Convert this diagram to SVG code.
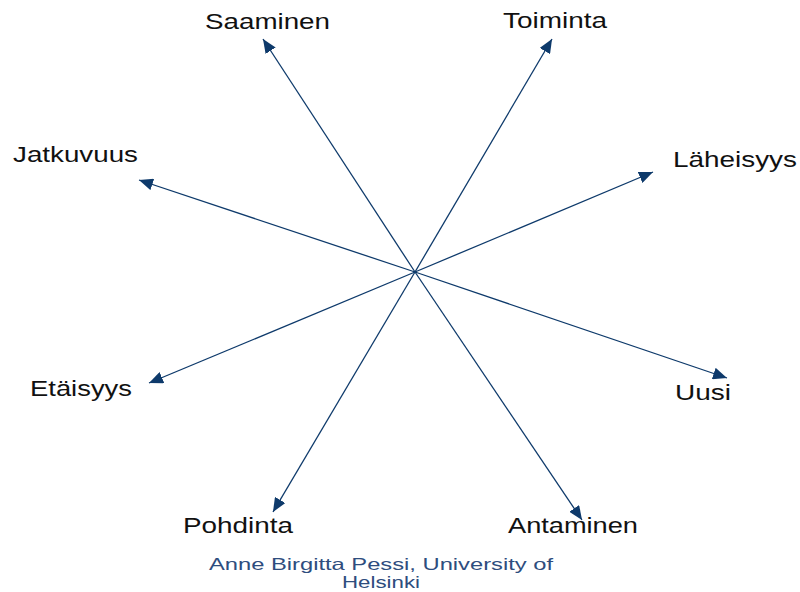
<svg xmlns="http://www.w3.org/2000/svg" width="800" height="592" viewBox="0 0 800 592">
<style>
.lbl{font-family:"Liberation Sans",Arial,sans-serif;font-size:22px;fill:#111}
.credit{font-family:"Liberation Sans",Arial,sans-serif;font-size:16.5px;fill:#2E4D7E}
.arr{stroke:#0E3A6B;stroke-width:1.3;fill:none;marker-end:url(#ah)}
</style>
<defs>
<marker id="ah" markerUnits="userSpaceOnUse" markerWidth="15" markerHeight="12" refX="14" refY="6" orient="auto">
<path d="M0,0 L14,6 L0,12 Z" fill="#0E3A6B"/>
</marker>
</defs>
<rect width="800" height="592" fill="#fff"/>
<g id="connectors">
<line class="arr" x1="415" y1="272" x2="263" y2="39"/>
<line class="arr" x1="415" y1="272" x2="552" y2="39"/>
<line class="arr" x1="415" y1="272" x2="139" y2="180"/>
<line class="arr" x1="415" y1="272" x2="653" y2="172"/>
<line class="arr" x1="415" y1="272" x2="149" y2="383"/>
<line class="arr" x1="415" y1="272" x2="727" y2="378"/>
<line class="arr" x1="415" y1="272" x2="273" y2="512"/>
<line class="arr" x1="415" y1="272" x2="582" y2="520"/>
</g>
<g id="saaminen"><text class="lbl" x="205" y="29" textLength="125" lengthAdjust="spacingAndGlyphs">Saaminen</text></g>
<g id="toiminta"><text class="lbl" x="503" y="28" textLength="104" lengthAdjust="spacingAndGlyphs">Toiminta</text></g>
<g id="jatkuvuus"><text class="lbl" x="13" y="162" textLength="125" lengthAdjust="spacingAndGlyphs">Jatkuvuus</text></g>
<g id="laheisyys"><text class="lbl" x="673" y="167" textLength="124" lengthAdjust="spacingAndGlyphs">Läheisyys</text></g>
<g id="etaisyys"><text class="lbl" x="30" y="396" textLength="102" lengthAdjust="spacingAndGlyphs">Etäisyys</text></g>
<g id="uusi"><text class="lbl" x="675" y="400" textLength="56" lengthAdjust="spacingAndGlyphs">Uusi</text></g>
<g id="pohdinta"><text class="lbl" x="183" y="533" textLength="110" lengthAdjust="spacingAndGlyphs">Pohdinta</text></g>
<g id="antaminen"><text class="lbl" x="508" y="533" textLength="130" lengthAdjust="spacingAndGlyphs">Antaminen</text></g>
<g id="credit">
<text class="credit" x="209" y="570" textLength="344" lengthAdjust="spacingAndGlyphs">Anne Birgitta Pessi, University of</text>
<text class="credit" x="342" y="588" textLength="78" lengthAdjust="spacingAndGlyphs">Helsinki</text>
</g>
</svg>
